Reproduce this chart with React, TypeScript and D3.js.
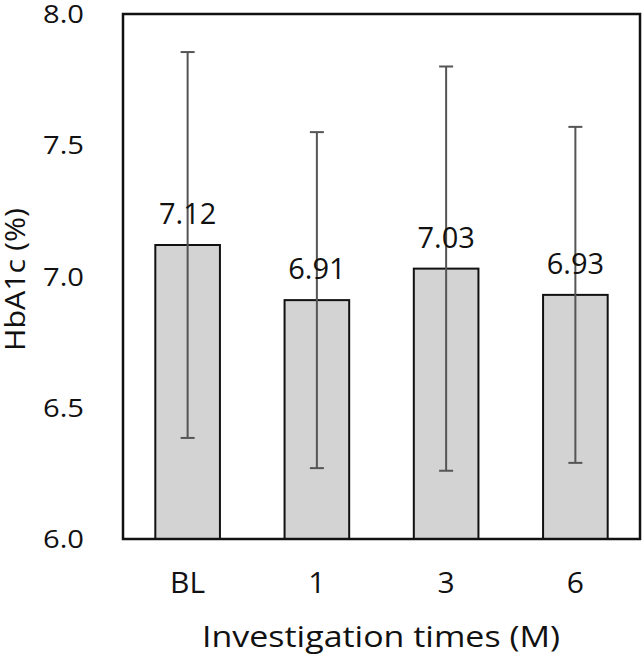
import React from "react";
import * as d3 from "d3";

const categories = ["BL", "1", "3", "6"];
const means = [7.12, 6.91, 7.03, 6.93];
const sds = [0.735, 0.64, 0.77, 0.64];
const yTicks = [6.0, 6.5, 7.0, 7.5, 8.0];

const W = 644;
const H = 657;
const m = { left: 123, right: 4, top: 14, bottom: 118 };
const FONT = "'Open Sans', sans-serif";

export default function App() {
  const x = d3
    .scaleBand<string>()
    .domain(categories)
    .range([m.left, W - m.right])
    .paddingInner(0.5)
    .paddingOuter(0.25);
  const y = d3.scaleLinear().domain([6, 8]).range([H - m.bottom, m.top]);
  const bw = x.bandwidth();
  return (
    <svg
      width={W}
      height={H}
      style={{ position: "absolute", left: 0, top: 0, background: "#fff" }}
      fontFamily={FONT}
    >
      {categories.map((c, i) => {
        const cx = (x(c) as number) + bw / 2;
        return (
          <g key={c}>
            <rect
              x={x(c)}
              y={y(means[i])}
              width={bw}
              height={y(6) - y(means[i])}
              fill="#d3d3d3"
              stroke="#111"
              strokeWidth={2}
            />
            <line x1={cx} x2={cx} y1={y(means[i] + sds[i])} y2={y(means[i] - sds[i])} stroke="#555" strokeWidth={2} />
            <line x1={cx - 7} x2={cx + 7} y1={y(means[i] + sds[i])} y2={y(means[i] + sds[i])} stroke="#555" strokeWidth={2} />
            <line x1={cx - 7} x2={cx + 7} y1={y(means[i] - sds[i])} y2={y(means[i] - sds[i])} stroke="#555" strokeWidth={2} />
            <text x={cx} y={y(means[i]) - 21} textAnchor="middle" fontSize={29} fill="#111">
              {means[i].toFixed(2)}
            </text>
            <text x={cx} y={593} textAnchor="middle" fontSize={30} fill="#111">
              {c}
            </text>
          </g>
        );
      })}
      <rect
        x={m.left}
        y={m.top}
        width={W - m.left - m.right}
        height={H - m.top - m.bottom}
        fill="none"
        stroke="#111"
        strokeWidth={2.5}
      />
      {yTicks.map((t) => (
        <text key={t} x={84} y={y(t) + 9} textAnchor="end" fontSize={25} textLength={41} lengthAdjust="spacingAndGlyphs" fill="#111">
          {t.toFixed(1)}
        </text>
      ))}
      <text
        transform={`translate(25,${279.5}) rotate(-90)`}
        textAnchor="middle"
        fontSize={27}
        textLength={143}
        lengthAdjust="spacingAndGlyphs"
        fill="#111"
      >
        HbA1c (%)
      </text>
      <text x={381} y={647} textAnchor="middle" fontSize={29} textLength={358} lengthAdjust="spacingAndGlyphs" fill="#111">
        Investigation times (M)
      </text>
    </svg>
  );
}
